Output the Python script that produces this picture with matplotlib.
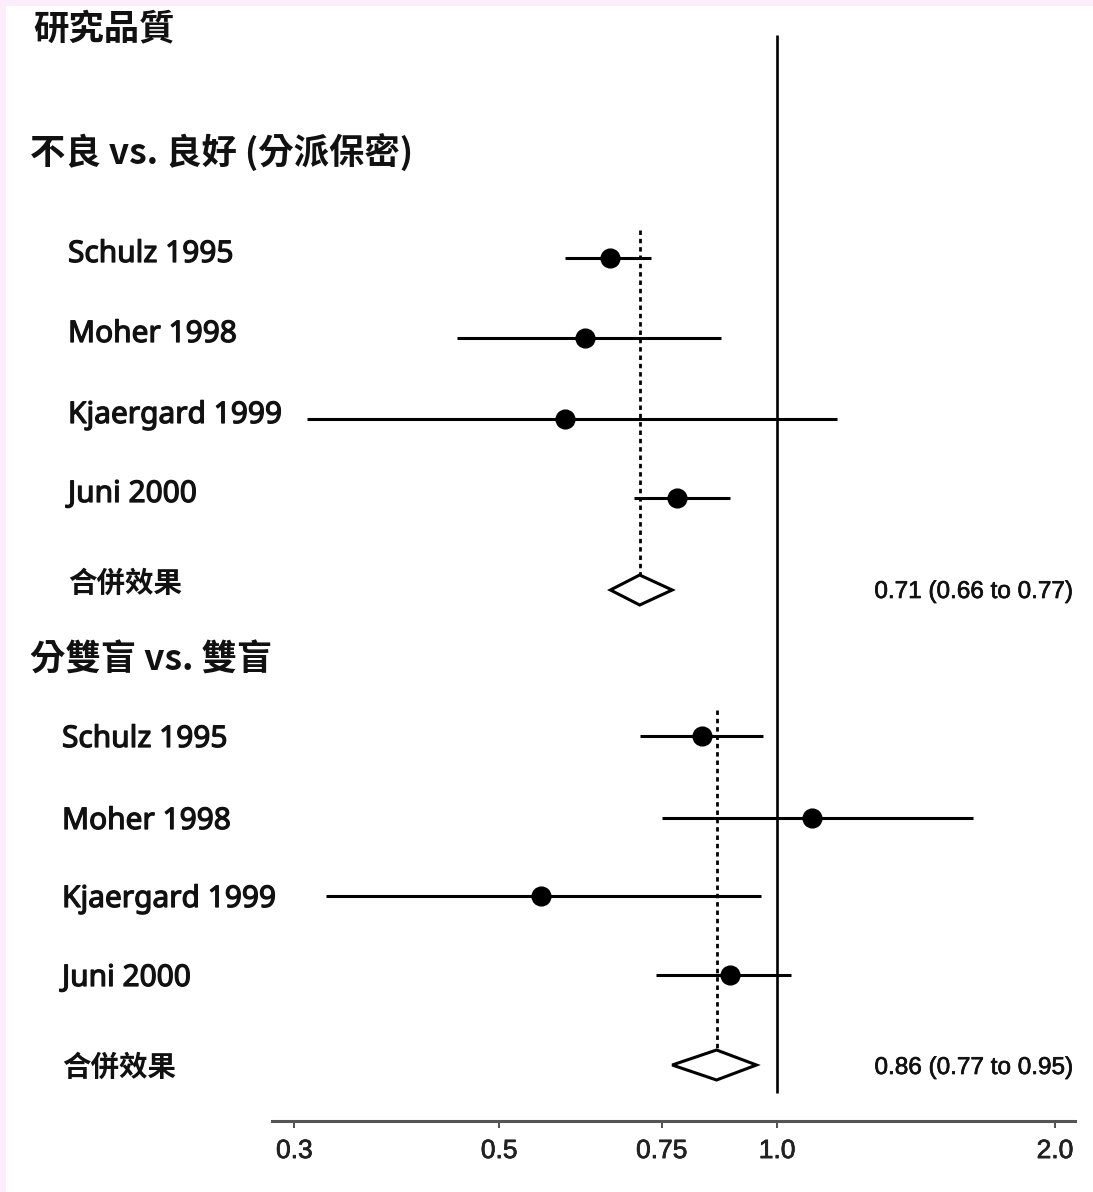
import numpy as np
import matplotlib
matplotlib.use("Agg")
import matplotlib.pyplot as plt
from matplotlib.patches import Polygon, Rectangle
from matplotlib.transforms import blended_transform_factory
from matplotlib.ticker import NullLocator
import matplotlib.patheffects as pe

# ---------------- data ----------------
title = "研究品質"
group_titles = ["不良 vs. 良好 (分派保密)", "分雙盲 vs. 雙盲"]
studies = ["Schulz 1995", "Moher 1998", "Kjaergard 1999", "Juni 2000"]
pooled_label = "合併效果"

g1_est = [0.66, 0.62, 0.59, 0.78]
g1_lo = [0.59, 0.45, 0.31, 0.70]
g1_hi = [0.73, 0.87, 1.16, 0.89]

g2_est = [0.83, 1.09, 0.555, 0.89]
g2_lo = [0.71, 0.75, 0.325, 0.74]
g2_hi = [0.965, 1.63, 0.96, 1.035]

pooled_est = [0.71, 0.86]
pooled_lo = [0.66, 0.77]
pooled_hi = [0.77, 0.95]
pooled_text = ["0.71 (0.66 to 0.77)", "0.86 (0.77 to 0.95)"]

tick_values = [0.3, 0.5, 0.75, 1.0, 2.0]
tick_labels = ["0.3", "0.5", "0.75", "1.0", "2.0"]

# ---------------- layout ----------------
W, H = 1093, 1192
fig = plt.figure(figsize=(W / 100, H / 100), dpi=100)
fig.patch.set_facecolor("white")

ax_l, ax_r, ax_b, ax_t = 272, 1075, 1121, 30
ax = fig.add_axes([ax_l / W, 1 - ax_b / H, (ax_r - ax_l) / W, (ax_b - ax_t) / H])
ax.set_xscale("log")
ax.set_xlim(0.2838, 2.1026)
ax.set_ylim(ax_b, ax_t)
ax.patch.set_alpha(0)

row_y = [[258, 338, 419, 498], [736, 818, 896, 975]]
pooled_y = [590, 1065]
dash_top = [230, 710]
label_x = [68, 62]
label_base_off = [4, 11]
header_y = [152, 660]
diamond_half_h = 15

cjk = ["Noto Sans CJK TC", "DejaVu Sans"]
latin = ["Noto Sans", "DejaVu Sans"]
arial = ["Liberation Sans", "DejaVu Sans"]

thick = [pe.withStroke(linewidth=0.9, foreground="#111111")]
thick_s = [pe.withStroke(linewidth=0.5, foreground="#111111")]

trans = blended_transform_factory(fig.transFigure, ax.transData)

est_all = [g1_est, g2_est]
lo_all = [g1_lo, g2_lo]
hi_all = [g1_hi, g2_hi]

# reference line at 1
ax.plot([1.0, 1.0], [35, 1093], color="black", lw=1.9, solid_capstyle="butt", zorder=2)

for g in range(2):
    ys = row_y[g]
    # dashed pooled line
    ax.plot([pooled_est[g], pooled_est[g]], [dash_top[g], pooled_y[g] - diamond_half_h],
            color="black", lw=2.0, ls=(0, (1.6, 1.4)), zorder=2)
    for i, y in enumerate(ys):
        ax.plot([lo_all[g][i], hi_all[g][i]], [y, y], color="black", lw=2.2,
                solid_capstyle="butt", zorder=3)
        ax.plot([est_all[g][i]], [y], marker="o", ms=13.5, color="black", zorder=4)
        ax.text(label_x[g] / W, y + label_base_off[g], studies[i], transform=trans,
                family=latin, fontsize=21.5, ha="left", va="baseline", color="#111111",
                path_effects=thick)
    # diamond
    yc = pooled_y[g]
    d = Polygon([[pooled_lo[g], yc], [pooled_est[g], yc - diamond_half_h],
                 [pooled_hi[g], yc], [pooled_est[g], yc + diamond_half_h]],
                closed=True, facecolor="white", edgecolor="black", lw=2.2, zorder=5,
                joinstyle="miter")
    ax.add_patch(d)
    # pooled label
    ax.text(label_x[g] / W, [584, 1068][g], pooled_label, transform=trans,
            family=cjk, fontsize=20.5, fontweight="bold", ha="left", va="center",
            color="#111111")
    # pooled estimate text
    ax.text(1073 / W, [592, 1068][g], pooled_text[g], transform=trans,
            family=arial, fontsize=17.5, ha="right", va="center", color="#111111",
            path_effects=thick_s)
    # group header
    ax.text(30 / W, header_y[g], group_titles[g], transform=trans,
            family=cjk, fontsize=25.5, fontweight="bold", ha="left", va="center",
            color="#111111")

# title
ax.text(33 / W, 29, title, transform=trans, family=cjk, fontsize=25.5,
        fontweight="bold", ha="left", va="center", color="#111111")

# axis styling
for s in ["top", "right", "left"]:
    ax.spines[s].set_visible(False)
ax.spines["bottom"].set_color("#555555")
ax.spines["bottom"].set_linewidth(2.2)
ax.set_yticks([])
ax.set_xticks(tick_values)
ax.set_xticklabels(tick_labels)
ax.xaxis.set_minor_locator(NullLocator())
ax.tick_params(axis="x", direction="out", length=5, width=1.2, color="#333333",
               pad=8, labelsize=19, labelcolor="#222222")
for lab in ax.get_xticklabels():
    lab.set_family(arial)
    lab.set_path_effects(thick_s)

# pink frame strips (top and left)
fig.patches.append(Rectangle((0, 1 - 6 / H), 1, 6 / H, transform=fig.transFigure,
                             facecolor="#fcedfb", edgecolor="none", zorder=10))
fig.patches.append(Rectangle((0, 0), 6 / W, 1, transform=fig.transFigure,
                             facecolor="#fcedfb", edgecolor="none", zorder=10))

fig.savefig("out.png", dpi=100, facecolor="white")
